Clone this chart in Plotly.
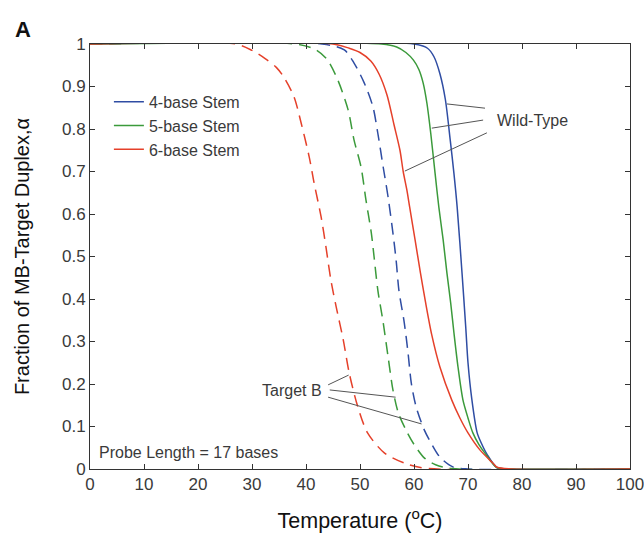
import plotly.graph_objects as go

# ---- data ----
T_wt4 = [0, 60, 62.5, 63.7, 64.8, 65.8, 66.7, 67.4, 68.0, 68.9, 69.6, 70.0, 70.7, 71.7, 72.5, 73.5, 75.4, 78, 100]
A_wt4 = [1, 1, 0.99, 0.97, 0.93, 0.87, 0.775, 0.695, 0.615, 0.46, 0.33, 0.25, 0.165, 0.085, 0.06, 0.035, 0.003, 0, 0]

T_wt5 = [0, 54, 56.8, 58.5, 59.9, 60.9, 61.7, 62.4, 63.1, 63.9, 64.6, 65.4, 66.1, 66.8, 67.4, 68.15, 69.07, 70, 70.9, 72, 73.1, 75.4, 78, 100]
A_wt5 = [1, 1, 0.993, 0.98, 0.962, 0.94, 0.908, 0.86, 0.79, 0.696, 0.616, 0.539, 0.461, 0.39, 0.32, 0.24, 0.162, 0.12, 0.085, 0.058, 0.038, 0.003, 0, 0]

T_wt6 = [0, 45, 48, 50, 52, 53.5, 55, 56.3, 57.4, 58.0, 58.7, 59.2, 60.2, 61.2, 62.1, 63.3, 64.8, 67.0, 68.5, 70.0, 72.2, 74.6, 75.4, 78, 100]
A_wt6 = [1, 1, 0.99, 0.98, 0.96, 0.93, 0.88, 0.81, 0.75, 0.70, 0.655, 0.616, 0.539, 0.461, 0.395, 0.315, 0.24, 0.162, 0.12, 0.085, 0.045, 0.014, 0.004, 0, 0]

T_tb4 = [0, 43, 47.1, 48.9, 50.8, 52.4, 53.3, 54.3, 55.2, 56.1, 56.7, 57.2, 58.2, 58.9, 59.5, 60.4, 61.9, 63, 64.8, 67.2, 70, 100]
A_tb4 = [1, 1, 0.986, 0.955, 0.908, 0.852, 0.79, 0.71, 0.64, 0.555, 0.49, 0.421, 0.344, 0.273, 0.202, 0.146, 0.092, 0.065, 0.028, 0.005, 0, 0]

T_tb5 = [0, 38, 41.9, 44, 45.9, 47.8, 48.9, 50.2, 51.1, 52.1, 52.6, 53.3, 54.3, 55.2, 56.1, 57.1, 58.5, 60, 62, 64, 67, 100]
A_tb5 = [1, 1, 0.986, 0.962, 0.915, 0.845, 0.774, 0.71, 0.633, 0.555, 0.50, 0.421, 0.344, 0.264, 0.186, 0.132, 0.092, 0.058, 0.025, 0.01, 0.001, 0]

T_tb6 = [0, 27, 30, 32.5, 34.5, 36, 37.8, 39.1, 40.6, 41.5, 42.8, 43.7, 44.6, 45.6, 46.9, 48, 49.6, 51.4, 54.5, 58.2, 62, 100]
A_tb6 = [1, 1, 0.985, 0.965, 0.945, 0.92, 0.875, 0.814, 0.734, 0.673, 0.593, 0.522, 0.445, 0.381, 0.304, 0.226, 0.146, 0.085, 0.038, 0.014, 0.002, 0]

legend_names = ["4-base Stem", "5-base Stem", "6-base Stem"]
x_ticks = [0, 10, 20, 30, 40, 50, 60, 70, 80, 90, 100]
y_ticks = [0, 0.1, 0.2, 0.3, 0.4, 0.5, 0.6, 0.7, 0.8, 0.9, 1]
y_ticktext = ["0", "0.1", "0.2", "0.3", "0.4", "0.5", "0.6", "0.7", "0.8", "0.9", "1"]

BLUE = "#2f4da3"
GREEN = "#3b9a3b"
RED = "#e5402a"
TXT = "#3a3a3a"
FONT = "Liberation Sans, Arial, sans-serif"

fig = go.Figure()

dash = "12px,7px"
for T, A, c in [(T_tb4, A_tb4, BLUE), (T_tb5, A_tb5, GREEN), (T_tb6, A_tb6, RED)]:
    fig.add_trace(go.Scatter(x=T, y=A, mode="lines", showlegend=False,
                             line=dict(color=c, width=1.5, dash=dash, shape="spline", smoothing=0.8)))

for T, A, c, n in [(T_wt4, A_wt4, BLUE, legend_names[0]),
                   (T_wt5, A_wt5, GREEN, legend_names[1]),
                   (T_wt6, A_wt6, RED, legend_names[2])]:
    fig.add_trace(go.Scatter(x=T, y=A, mode="lines", name=n,
                             line=dict(color=c, width=1.5, shape="spline", smoothing=0.8)))

# pointer lines
ptr = dict(color="#555555", width=1)
for x0, y0, x1, y1 in [(73.15, 0.849, 66.1, 0.859),
                       (72.8, 0.821, 63.3, 0.802),
                       (73.5, 0.791, 58.3, 0.701),
                       (44.1, 0.198, 47.9, 0.221),
                       (44.4, 0.186, 56.6, 0.169),
                       (44.1, 0.169, 61.4, 0.106)]:
    fig.add_shape(type="line", x0=x0, y0=y0, x1=x1, y1=y1, xref="x", yref="y", line=ptr)

ANN = 16
fig.add_annotation(x=75.0, y=0.819, xref="x", yref="y", text="Wild-Type", showarrow=False,
                   xanchor="left", yanchor="middle", font=dict(size=ANN, color=TXT, family=FONT))
fig.add_annotation(x=43.3, y=0.184, xref="x", yref="y", text="Target B", showarrow=False,
                   xanchor="right", yanchor="middle", font=dict(size=ANN, color=TXT, family=FONT))
fig.add_annotation(x=1.3, y=0.04, xref="x", yref="y", text="Probe Length = 17 bases", showarrow=False,
                   xanchor="left", yanchor="middle", font=dict(size=ANN, color=TXT, family=FONT))
fig.add_annotation(x=-0.142, y=1.033, xref="paper", yref="paper", text="<b>A</b>", showarrow=False,
                   xanchor="left", yanchor="middle", font=dict(size=22, color="#111111", family=FONT))

axis_common = dict(showline=True, linecolor="#333333", linewidth=1, mirror="ticks",
                   ticks="inside", ticklen=5, tickcolor="#333333", showgrid=False, zeroline=False,
                   ticklabeloverflow="allow", automargin=False,
                   tickfont=dict(size=17, color=TXT, family=FONT))

fig.update_layout(
    width=644, height=533,
    margin=dict(l=90, r=14, t=44, b=64),
    paper_bgcolor="white", plot_bgcolor="white",
    font=dict(family=FONT, color=TXT),
    xaxis=dict(range=[0, 100], tickvals=x_ticks,
               title=dict(text="Temperature (<sup>o</sup>C)", font=dict(size=21.5, color="#111111", family=FONT), standoff=20),
               **axis_common),
    yaxis=dict(range=[0, 1], tickvals=y_ticks, ticktext=y_ticktext,
               title=dict(text="Fraction of MB-Target Duplex,α", font=dict(size=20, color="#111111", family=FONT), standoff=26),
               **axis_common),
    legend=dict(x=0.035, y=0.904, xanchor="left", yanchor="top", bgcolor="rgba(0,0,0,0)",
                font=dict(size=ANN, color=TXT, family=FONT), tracegroupgap=0, itemwidth=30),
)

fig.write_html("out.html", config={"displayModeBar": False},
               post_script="document.body.style.margin='0';document.body.style.padding='0';"
                           "document.documentElement.style.overflow='hidden';")
